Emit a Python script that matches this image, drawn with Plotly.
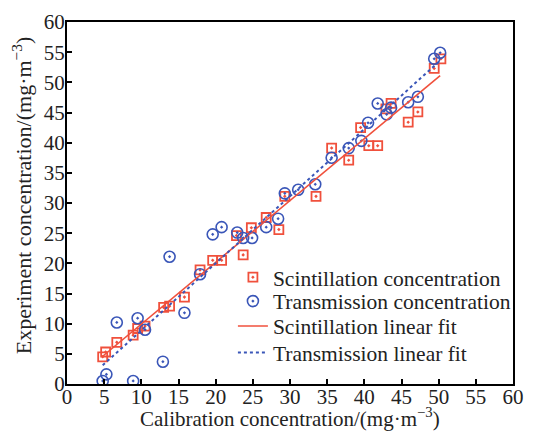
import plotly.graph_objects as go

# Scintillation measurements (calibration vs experiment, mg/m^3)
scint_x = [4.8, 5.2, 6.7, 8.9, 9.5, 10.5, 13.0, 13.8, 15.8, 17.9, 19.6, 20.8,
           22.8, 23.7, 24.8, 26.8, 28.5, 29.3, 33.5, 35.6, 37.9, 39.5, 40.6,
           41.8, 42.9, 43.6, 45.9, 47.2, 49.4, 50.3]
scint_y = [4.5, 5.3, 6.9, 8.1, 9.2, 9.6, 12.7, 12.9, 14.4, 18.9, 20.5, 20.5,
           24.6, 21.4, 25.9, 27.6, 25.6, 31.1, 31.1, 39.1, 37.1, 42.5, 39.5,
           39.5, 45.6, 46.5, 43.4, 45.1, 52.3, 53.9]

# Transmission measurements
trans_x = [4.8, 5.3, 6.7, 8.9, 9.5, 10.5, 12.9, 13.8, 15.8, 17.9, 19.6, 20.8,
           22.9, 23.7, 24.9, 26.8, 28.4, 29.3, 31.1, 33.4, 35.6, 37.9, 39.6,
           40.5, 41.8, 43.0, 43.6, 45.9, 47.2, 49.4, 50.2]
trans_y = [0.5, 1.6, 10.2, 0.5, 10.9, 9.0, 3.7, 21.1, 11.8, 18.2, 24.8, 26.0,
           25.1, 24.2, 24.2, 26.0, 27.4, 31.6, 32.2, 33.1, 37.5, 39.1, 40.3,
           43.3, 46.5, 44.7, 45.8, 46.7, 47.6, 53.9, 54.9]

# Linear fit end points
fit_x = [4.8, 50.2]
scint_fit_y = [4.6, 51.1]
trans_fit_y = [3.1, 53.6]

x_ticks = list(range(0, 61, 5))
y_ticks = list(range(0, 61, 5))

RED = "#f0503c"
BLUE = "#3a56b8"
FONT = "Liberation Serif"
FS = 21
TXT = "#222"

fig = go.Figure()
fig.add_trace(go.Scatter(
    x=scint_x, y=scint_y, mode="markers", name="Scintillation concentration",
    marker=dict(symbol="square-open-dot", size=9, color=RED, line=dict(width=1.8)),
    legend="legend",
))
fig.add_trace(go.Scatter(
    x=trans_x, y=trans_y, mode="markers", name="Transmission concentration",
    marker=dict(symbol="circle-open-dot", size=11, color=BLUE, line=dict(width=1.6)),
    legend="legend2",
))
fig.add_trace(go.Scatter(
    x=fit_x, y=scint_fit_y, mode="lines", name="Scintillation linear fit",
    line=dict(color=RED, width=1.6),
    legend="legend3",
))
fig.add_trace(go.Scatter(
    x=fit_x, y=trans_fit_y, mode="lines", name="Transmission linear fit",
    line=dict(color=BLUE, width=2, dash="dot"),
    legend="legend4",
))

x_axis_style = dict(
    showline=True, linecolor="black", linewidth=2, mirror=True,
    ticks="inside", ticklen=5, tickwidth=1.5, tickcolor="black",
    showgrid=False, zeroline=False, ticklabelstandoff=-7,
    tickfont=dict(family=FONT, size=FS, color=TXT),
)
y_axis_style = dict(x_axis_style, ticklabelstandoff=-4)


def legend_row(ypos):
    # one legend entry per row, stacked with a fixed spacing
    return dict(
        x=0.372, y=ypos, xanchor="left", yanchor="middle",
        bgcolor="rgba(0,0,0,0)", borderwidth=0,
        font=dict(family=FONT, size=21.5, color=TXT),
        itemwidth=30,
    )


fig.update_layout(
    width=534, height=436,
    margin=dict(l=67, r=10, t=16, b=52),
    paper_bgcolor="white", plot_bgcolor="white",
    font=dict(family=FONT, size=FS, color=TXT),
    showlegend=True,
    legend=legend_row(0.295),
    legend2=legend_row(0.229),
    legend3=legend_row(0.160),
    legend4=legend_row(0.087),
    xaxis=dict(range=[0, 60], tickvals=x_ticks, **x_axis_style),
    yaxis=dict(range=[0, 60], tickvals=y_ticks, **y_axis_style),
    annotations=[
        dict(text="Calibration concentration/(mg·m<sup>−3</sup>)",
             xref="paper", yref="paper", x=0.5, y=-0.092,
             xanchor="center", yanchor="middle", showarrow=False,
             font=dict(family=FONT, size=FS, color=TXT)),
        dict(text="Experiment concentration/(mg·m<sup>−3</sup>)",
             xref="paper", yref="paper", x=-0.102, y=0.52,
             xanchor="center", yanchor="middle", showarrow=False,
             textangle=-90,
             font=dict(family=FONT, size=22, color=TXT)),
    ],
)

fig.write_html("out.html")
